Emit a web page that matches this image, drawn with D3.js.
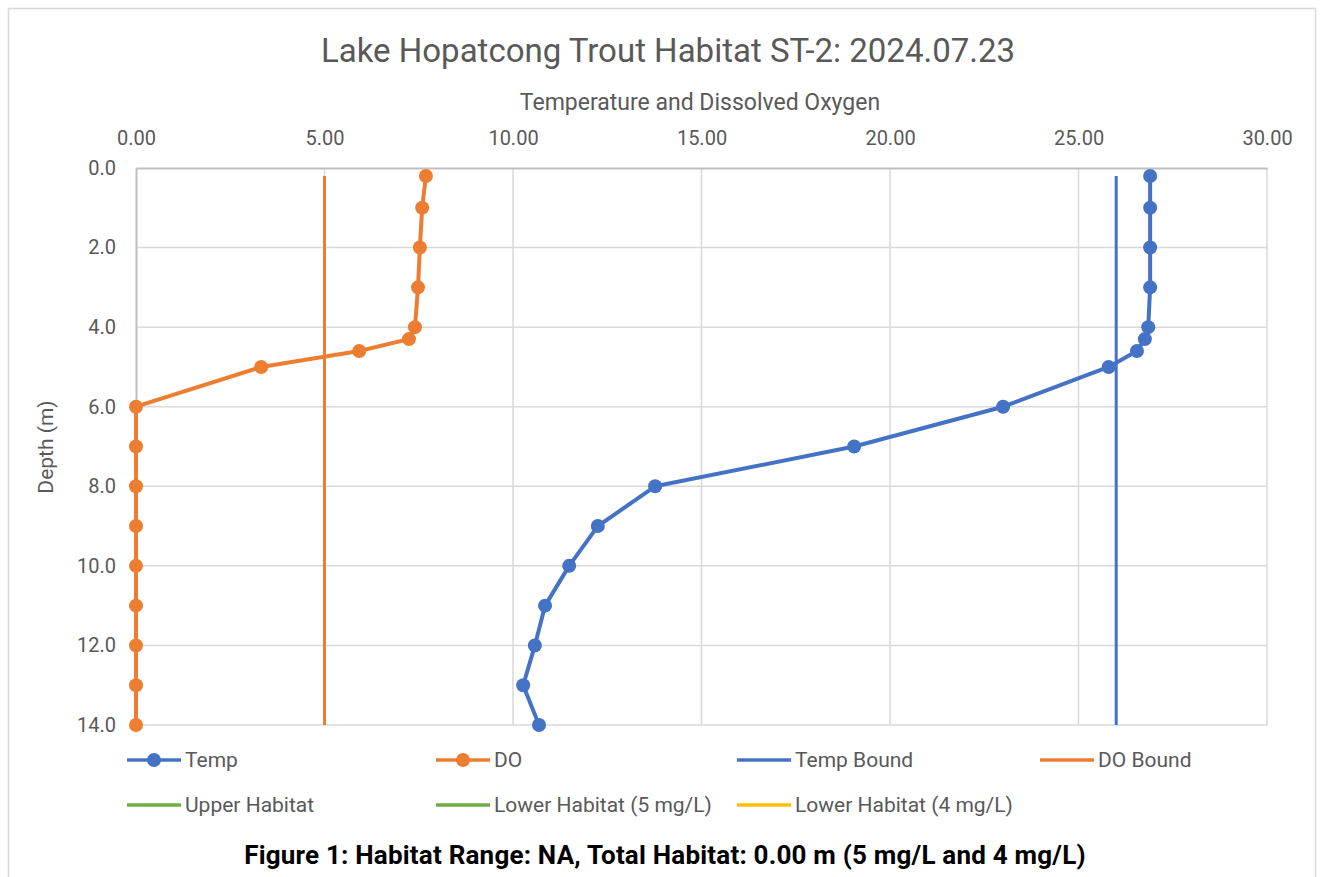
<!DOCTYPE html>
<html>
<head>
<meta charset="utf-8">
<script src="https://cdn.jsdelivr.net/npm/d3@7"></script>
<style>
  html, body { margin: 0; padding: 0; background: #fff; }
  svg { display: block; }
  text { font-family: Roboto, "Open Sans", sans-serif; }
</style>
</head>
<body>
<svg id="chart" width="1327" height="877"></svg>
<script>
// ---- Data ----
const depths   = [0.2, 1.0, 2.0, 3.0, 4.0, 4.3, 4.6, 5.0, 6.0, 7.0, 8.0, 9.0, 10.0, 11.0, 12.0, 13.0, 14.0];
const tempVals = [26.9, 26.9, 26.9, 26.9, 26.85, 26.76, 26.55, 25.8, 23.0, 19.05, 13.77, 12.25, 11.49, 10.85, 10.58, 10.27, 10.69];
const doVals   = [7.69, 7.59, 7.53, 7.48, 7.40, 7.24, 5.92, 3.32, 0.0, 0.0, 0.0, 0.0, 0.0, 0.0, 0.0, 0.0, 0.0];
const tempBound = [[26.0, 0.2], [26.0, 14.0]];
const doBound   = [[5.0, 0.2], [5.0, 14.0]];
const upperHabitat = [];
const lowerHabitat5 = [];
const lowerHabitat4 = [];
const xTicks = [0, 5, 10, 15, 20, 25, 30];
const yTicks = [0, 2, 4, 6, 8, 10, 12, 14];
const legendRow1 = ["Temp", "DO", "Temp Bound", "DO Bound"];
const legendRow2 = ["Upper Habitat", "Lower Habitat (5 mg/L)", "Lower Habitat (4 mg/L)"];

const titleText = "Lake Hopatcong Trout Habitat ST-2: 2024.07.23";
const xTitleText = "Temperature and Dissolved Oxygen";
const yTitleText = "Depth (m)";
const captionText = "Figure 1: Habitat Range: NA, Total Habitat: 0.00 m (5 mg/L and 4 mg/L)";

// ---- Styles ----
const C_TEMP = "#4472C4", C_DO = "#ED7D31", C_GREEN = "#70AD47", C_YELLOW = "#FFC000";
const C_TEXT = "#595959", C_GRID = "#d9d9d9";

const svg = d3.select("#chart");

// Chart border
svg.append("rect").attr("x", 8.5).attr("y", 8.5).attr("width", 1307).attr("height", 880)
  .attr("fill", "#fff").attr("stroke", "#d9d9d9").attr("stroke-width", 1.5);

const plot = { left: 136, right: 1267, top: 168, bottom: 725 };
const x = d3.scaleLinear().domain([0, 30]).range([plot.left, plot.right]);
const y = d3.scaleLinear().domain([0, 14]).range([plot.top, plot.bottom]);

// Gridlines
const g = svg.append("g");
g.selectAll(".vgrid").data(xTicks.slice(1)).join("line")
  .attr("x1", d => x(d)).attr("x2", d => x(d)).attr("y1", plot.top).attr("y2", plot.bottom)
  .attr("stroke", C_GRID).attr("stroke-width", 1.5);
g.selectAll(".hgrid").data(yTicks.slice(1)).join("line")
  .attr("x1", plot.left).attr("x2", plot.right).attr("y1", d => y(d)).attr("y2", d => y(d))
  .attr("stroke", C_GRID).attr("stroke-width", 1.5);

// Axes (top and left)
const xAxis = d3.axisTop(x).tickValues(xTicks).tickFormat(d3.format(".2f")).tickSize(0).tickPadding(23);
const yAxis = d3.axisLeft(y).tickValues(yTicks).tickFormat(d3.format(".1f")).tickSize(0).tickPadding(20);
const gx = svg.append("g").attr("transform", `translate(0,${plot.top})`).call(xAxis);
const gy = svg.append("g").attr("transform", `translate(${plot.left},0)`).call(yAxis);
[gx, gy].forEach(a => {
  a.select(".domain").attr("stroke", "#bfbfbf").attr("stroke-width", 2);
  a.selectAll("text").attr("fill", C_TEXT).style("font-size", "20px").style("font-family", "Roboto");
});

// Bound lines
const line = d3.line().x(d => x(d[0])).y(d => y(d[1]));
svg.append("path").datum(tempBound).attr("d", line).attr("fill", "none").attr("stroke", C_TEMP).attr("stroke-width", 3);
svg.append("path").datum(doBound).attr("d", line).attr("fill", "none").attr("stroke", C_DO).attr("stroke-width", 3);

// Series
function drawSeries(vals, color) {
  const pts = vals.map((v, i) => [v, depths[i]]);
  svg.append("path").datum(pts).attr("d", line).attr("fill", "none")
    .attr("stroke", color).attr("stroke-width", 4).attr("stroke-linejoin", "round");
  svg.append("g").selectAll("circle").data(pts).join("circle")
    .attr("cx", d => x(d[0])).attr("cy", d => y(d[1])).attr("r", 7).attr("fill", color);
}
drawSeries(doVals, C_DO);
drawSeries(tempVals, C_TEMP);

// Titles
svg.append("text").attr("x", 668).attr("y", 62).attr("text-anchor", "middle")
  .attr("fill", C_TEXT).style("font-size", "33px").text(titleText);
svg.append("text").attr("x", 700).attr("y", 110).attr("text-anchor", "middle")
  .attr("fill", C_TEXT).style("font-size", "23px").text(xTitleText);
svg.append("text").attr("transform", "translate(53,447) rotate(-90)").attr("text-anchor", "middle")
  .attr("fill", C_TEXT).style("font-size", "21px").text(yTitleText);

// Legend
const legendItems = [
  { name: legendRow1[0], color: C_TEMP, marker: true, x: 127, y: 760, w: 3.5 },
  { name: legendRow1[1], color: C_DO, marker: true, x: 436, y: 760, w: 3.5 },
  { name: legendRow1[2], color: C_TEMP, marker: false, x: 737, y: 760, w: 3.5 },
  { name: legendRow1[3], color: C_DO, marker: false, x: 1040, y: 760, w: 3.5 },
  { name: legendRow2[0], color: C_GREEN, marker: false, x: 127, y: 805, w: 3.5, data: upperHabitat },
  { name: legendRow2[1], color: C_GREEN, marker: false, x: 436, y: 805, w: 3.5, data: lowerHabitat5 },
  { name: legendRow2[2], color: C_YELLOW, marker: false, x: 737, y: 805, w: 3.5, data: lowerHabitat4 }
];
const lg = svg.append("g").selectAll("g").data(legendItems).join("g")
  .attr("transform", d => `translate(${d.x},${d.y})`);
lg.append("line").attr("x1", 0).attr("x2", 54).attr("y1", 0).attr("y2", 0)
  .attr("stroke", d => d.color).attr("stroke-width", d => d.w);
lg.filter(d => d.marker).append("circle").attr("cx", 27).attr("cy", 0).attr("r", 7).attr("fill", d => d.color);
lg.append("text").attr("x", 58).attr("y", 0).attr("dy", "0.35em").attr("fill", C_TEXT)
  .style("font-size", "21px").text(d => d.name);

// Caption
svg.append("text").attr("x", 665).attr("y", 864).attr("text-anchor", "middle")
  .attr("fill", "#000").style("font-size", "26px").style("font-weight", "bold")
  .style("letter-spacing", "0.2px").text(captionText);
</script>
</body>
</html>
